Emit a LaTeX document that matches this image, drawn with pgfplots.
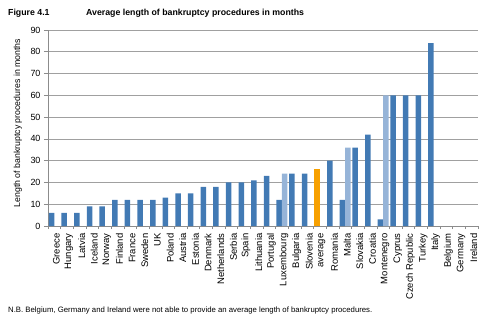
\documentclass[border=0pt]{standalone}
\usepackage{pgfplots}
\pgfplotsset{compat=1.18}
\usepackage{fontspec}
\setmainfont{Liberation Sans}
\definecolor{darkb}{RGB}{66,122,180}
\definecolor{lightb}{RGB}{150,180,216}
\definecolor{orng}{RGB}{247,160,0}
\definecolor{gridgray}{RGB}{160,160,160}
\definecolor{axisgray}{RGB}{140,140,140}
\begin{document}
\begin{tikzpicture}
\useasboundingbox (0,0) rectangle (488bp,321bp);
\node[anchor=base west, font=\bfseries\fontsize{8.8}{10}\selectfont, inner sep=0pt] at (8bp,305bp) {Figure 4.1};
\node[anchor=base west, font=\bfseries\fontsize{8.8}{10}\selectfont, inner sep=0pt] at (86bp,305bp) {Average length of bankruptcy procedures in months};
\node[anchor=base west, font=\fontsize{7.8}{9}\selectfont, inner sep=0pt] at (8bp,9bp) {N.B. Belgium, Germany and Ireland were not able to provide an average length of bankruptcy procedures.};
\begin{axis}[
  at={(48bp,95bp)}, anchor=south west,
  scale only axis, width=430bp, height=196bp,
  xmin=-0.5, xmax=33.5, ymin=0, ymax=90,
  ytick={0,10,...,90},
  ymajorgrids, grid style={color=gridgray, line width=0.6pt},
  axis x line*=bottom, axis y line*=left,
  axis line style={color=axisgray, line width=0.6pt},
  tick align=outside,
  major tick length=4bp, minor tick length=3bp,
  ytick style={color=axisgray, line width=0.6pt},
  major x tick style={draw=none},
  minor x tick style={color=axisgray, line width=0.6pt},
  xtick={0,...,33},
  minor xtick={-0.5,0.5,...,33.5},
  xticklabels={Greece,Hungary,Latvia,Iceland,Norway,Finland,France,Sweden,UK,Poland,Austria,Estonia,Denmark,Netherlands,Serbia,Spain,Lithuania,Portugal,Luxembourg,Bulgaria,Slovenia,average,Romania,Malta,Slovakia,Croatia,Montenegro,Cyprus,Czech Republic,Turkey,Italy,Belgium,Germany,Ireland},
  x tick label style={rotate=90, anchor=east, font=\fontsize{9.5}{10}\selectfont, yshift=-2bp},
  y tick label style={font=\fontsize{9}{10}\selectfont},
  /pgf/number format/assume math mode=true,
  ylabel={Length of bankruptcy procedures in months},
  ylabel style={font=\fontsize{8.8}{10}\selectfont, at={(axis description cs:-0.07,0.525)}, anchor=center},
  ybar, bar width=5.5bp,
  clip=false,
]
\addplot[fill=darkb, draw=none, bar shift=-2.75bp] coordinates {
 (0,6) (1,6) (2,6) (3,9) (4,9) (5,12) (6,12) (7,12) (8,12) (9,13)
 (10,15) (11,15) (12,18) (13,18) (14,20) (15,20) (16,21) (17,23) (18,12) (19,24)
 (20,24) (22,30) (23,12) (24,36) (25,42) (26,3) (27,60) (28,60) (29,60) (30,84)
};
\addplot[fill=lightb, draw=none, bar shift=2.75bp] coordinates {
 (18,24) (23,36) (26,60)
};
\addplot[fill=orng, draw=none, bar shift=-2.75bp] coordinates {
 (21,26)
};
\end{axis}
\end{tikzpicture}
\end{document}
